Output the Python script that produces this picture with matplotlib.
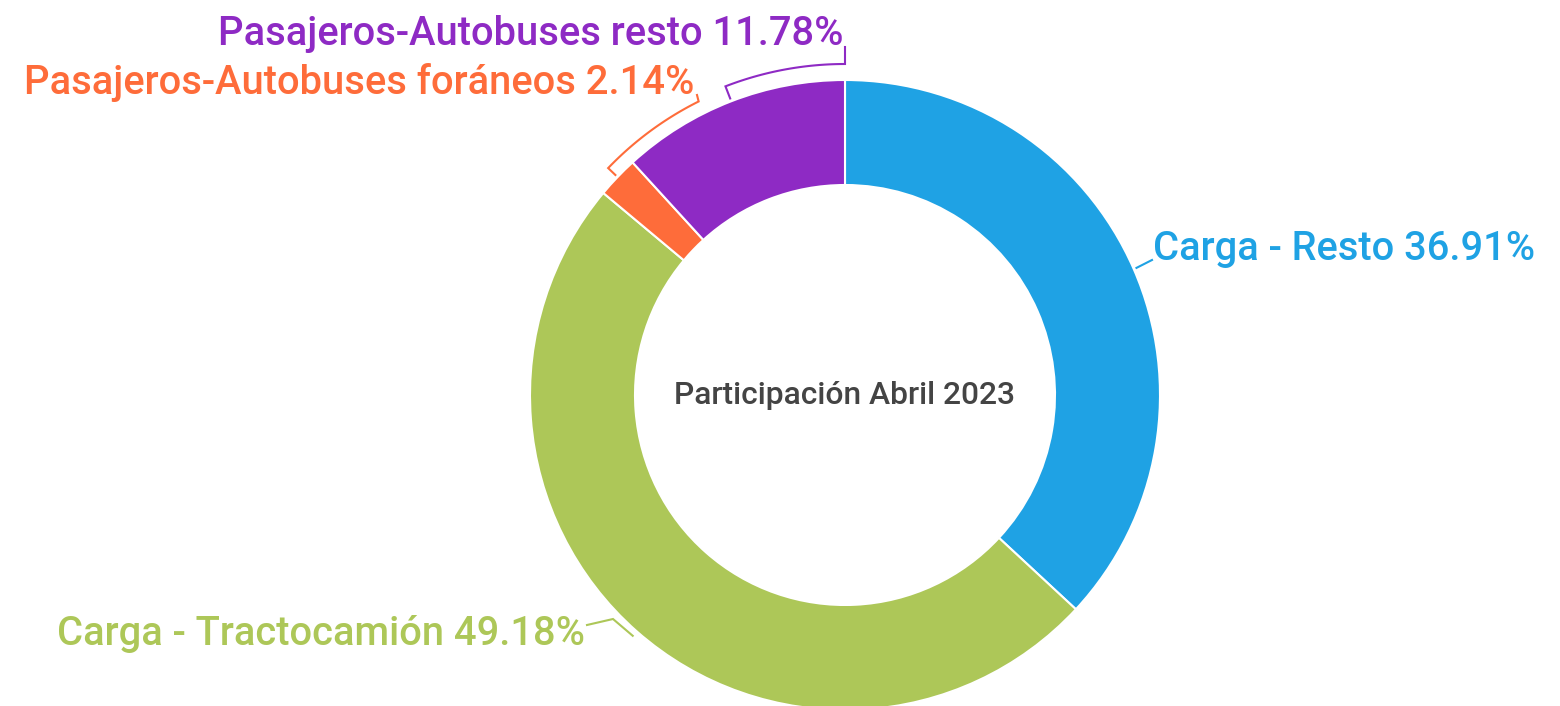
import matplotlib
matplotlib.use("Agg")
import matplotlib.pyplot as plt
import numpy as np

plt.rcParams['font.family'] = ['Roboto', 'DejaVu Sans']

# data
categories = ['Carga - Resto', 'Carga - Tractocamión',
              'Pasajeros-Autobuses foráneos', 'Pasajeros-Autobuses resto']
shares = [36.91, 49.18, 2.14, 11.78]
colors = ['#1fa2e4', '#adc758', '#fe6c3a', '#8e2ac4']
center_title = 'Participación Abril 2023'

W, H = 1560, 706
fig = plt.figure(figsize=(W / 100, H / 100), dpi=100)
ax = fig.add_axes([0, 0, 1, 1])
ax.set_xlim(0, W)
ax.set_ylim(0, H)
ax.set_aspect('equal')
ax.axis('off')

cx, cy = 845, H - 395
R = 315
ax.pie(shares, colors=colors, startangle=90, counterclock=False,
       center=(cx, cy), radius=R,
       wedgeprops=dict(width=105, edgecolor='white', linewidth=1.5))
ax.set_xlim(0, W)
ax.set_ylim(0, H)

ax.text(cx, cy, center_title, ha='center', va='center', fontsize=22.9,
        color='#444444', fontweight='medium')

# mid angles of slices, in (-180, 180]
ends = 90 - np.cumsum(shares) * 3.6
starts = ends + np.array(shares) * 3.6
mids = ((starts + ends) / 2 + 180) % 360 - 180


def polar(ang, r):
    a = np.deg2rad(ang)
    return cx + r * np.cos(a), cy + r * np.sin(a)


def arc(a0, a1, r, n=30):
    return [polar(a, r) for a in np.linspace(a0, a1, n)]


def pix(x, y):
    return x, H - y


# connectors (layout)
paths = [
    [polar(mids[0], 318), pix(1152, 260)],
    [polar(mids[1], 321), pix(613, 619), pix(587, 625)],
    [polar(mids[2], 318)] + arc(mids[2], 116.5, 328) + [pix(697, 95)],
    [polar(mids[3], 318)] + arc(mids[3], 90, 331) + [pix(845, 47)],
]
for pts, c in zip(paths, colors):
    xs, ys = zip(*pts)
    ax.plot(xs, ys, color=c, lw=1.5, solid_joinstyle='miter')

# labels
label_pos = [(1153, 249, 'left'), (585, 634, 'right'),
             (694, 82, 'right'), (843, 34, 'right')]
for name, v, c, (x, y, ha) in zip(categories, shares, colors, label_pos):
    ax.text(x, H - y, f'{name} {v:.2f}%', ha=ha, va='center',
            fontsize=28.7, color=c, fontweight='medium')

fig.savefig('out.png', dpi=100)
